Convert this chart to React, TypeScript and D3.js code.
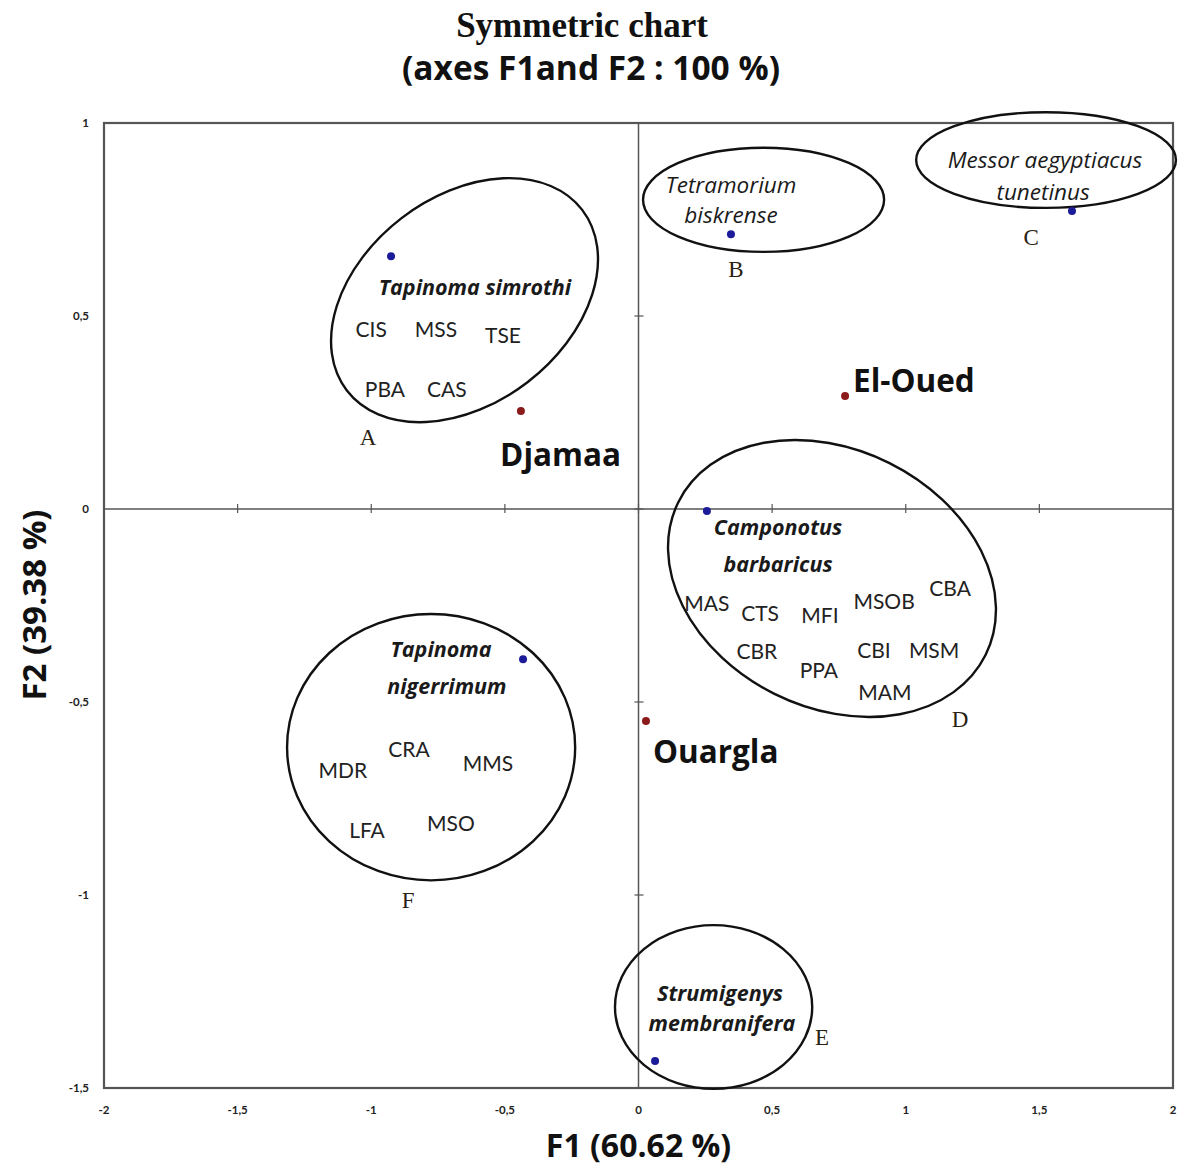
import React, { useEffect } from 'react';
import { scaleLinear, range } from 'd3';

const W = 1180;
const H = 1169;
const margin = { top: 123, right: 7, bottom: 81, left: 104 };

// F1 / F2 coordinates
const speciesNames = ['Tapinoma simrothi', 'Tetramorium biskrense', 'Messor aegyptiacus tunetinus', 'Camponotus barbaricus', 'Tapinoma nigerrimum', 'Strumigenys membranifera'];
const speciesF1 = [-0.926, 0.346, 1.622, 0.256, -0.432, 0.062];
const speciesF2 = [0.655, 0.712, 0.772, -0.005, -0.389, -1.43];

const siteNames = ['Djamaa', 'El-Oued', 'Ouargla'];
const siteF1 = [-0.44, 0.773, 0.028];
const siteF2 = [0.254, 0.293, -0.549];
const siteLabelF1 = [-0.518, 0.803, 0.054];
const siteLabelF2 = [0.14, 0.332, -0.63];

// species name labels (one entry per line)
const speciesLines = ['Tapinoma simrothi', 'Tetramorium', 'biskrense', 'Messor aegyptiacus', 'tunetinus', 'Camponotus', 'barbaricus', 'Tapinoma', 'nigerrimum', 'Strumigenys', 'membranifera'];
const speciesLineF1 = [-0.612, 0.346, 0.346, 1.521, 1.514, 0.522, 0.522, -0.739, -0.717, 0.305, 0.312];
const speciesLineF2 = [0.575, 0.839, 0.762, 0.904, 0.821, -0.049, -0.145, -0.363, -0.459, -1.254, -1.334];
const speciesLineBold = [true, false, false, false, false, true, true, true, true, true, true];

// station codes
const codes = ['CIS', 'MSS', 'TSE', 'PBA', 'CAS', 'MAS', 'CTS', 'MFI', 'MSOB', 'CBA', 'CBR', 'PPA', 'CBI', 'MSM', 'MAM', 'MDR', 'CRA', 'MMS', 'LFA', 'MSO'];
const codeF1 = [-1.0, -0.758, -0.507, -0.949, -0.717, 0.256, 0.455, 0.679, 0.919, 1.166, 0.443, 0.675, 0.881, 1.106, 0.922, -1.106, -0.859, -0.563, -1.016, -0.702];
const codeF2 = [0.464, 0.464, 0.448, 0.308, 0.308, -0.244, -0.272, -0.277, -0.241, -0.207, -0.37, -0.42, -0.368, -0.368, -0.477, -0.679, -0.624, -0.661, -0.834, -0.816];

// groups
const groupLetters = ['A', 'B', 'C', 'D', 'E', 'F'];
const letterF1 = [-1.012, 0.365, 1.469, 1.203, 0.687, -0.862];
const letterF2 = [0.187, 0.622, 0.705, -0.544, -1.368, -1.013];
const ellipseF1 = [-0.651, 0.468, 1.525, 0.724, 0.281, -0.776];
const ellipseF2 = [0.541, 0.801, 0.904, -0.18, -1.29, -0.617];
const ellipseRx = [0.555, 0.451, 0.486, 0.642, 0.369, 0.539];
const ellipseRy = [0.268, 0.135, 0.124, 0.334, 0.212, 0.345];
const ellipseRot = [-37.5, 0, 0, 26.5, 0, 0];

const xTicks = range(-2, 2.01, 0.5);
const yTicks = range(-1.5, 1.01, 0.5);

const fmt = (v: number) => String(Math.round(v * 10) / 10).replace('.', ',');

const App = () => {
  useEffect(() => {
    document.body.style.margin = '0';
  }, []);

  const x = scaleLinear().domain([-2, 2]).range([margin.left, W - margin.right]);
  const y = scaleLinear().domain([-1.5, 1]).range([H - margin.bottom, margin.top]);
  const kx = x(1) - x(0);
  const ky = y(0) - y(1);

  const sans = "'Open Sans', sans-serif";
  const lato = "Lato, 'Open Sans', sans-serif";
  const serif = "'Liberation Serif', 'DejaVu Serif', serif";

  return (
    <svg width={W} height={H} style={{ display: 'block', background: '#fff' }}>
      {/* title */}
      <text x={582} y={37} textAnchor="middle" fontFamily={serif} fontWeight="bold" fontSize={35} fill="#111">
        Symmetric chart
      </text>
      <text x={591} y={80} textAnchor="middle" fontFamily={sans} fontWeight="bold" fontSize={33.5} fill="#111">
        (axes F1and F2 : 100 %)
      </text>

      {/* zero lines */}
      <line x1={x(0)} x2={x(0)} y1={y(1)} y2={y(-1.5)} stroke="#555" strokeWidth={1.5} />
      <line x1={x(-2)} x2={x(2)} y1={y(0)} y2={y(0)} stroke="#555" strokeWidth={1.5} />
      {xTicks.map((t) => (
        <line key={'xt' + t} x1={x(t)} x2={x(t)} y1={y(0) - 5} y2={y(0) + 4} stroke="#555" strokeWidth={1.2} />
      ))}
      {yTicks.map((t) => (
        <line key={'yt' + t} x1={x(0) - 4} x2={x(0) + 5} y1={y(t)} y2={y(t)} stroke="#555" strokeWidth={1.2} />
      ))}

      {/* frame */}
      <rect x={x(-2)} y={y(1)} width={x(2) - x(-2)} height={y(-1.5) - y(1)} fill="none" stroke="#555" strokeWidth={2.2} />

      {/* tick labels */}
      {xTicks.map((t) => (
        <text key={'xl' + t} x={x(t)} y={y(-1.5) + 26} textAnchor="middle" fontFamily={lato} fontWeight="bold" fontSize={11.5} fill="#222">
          {fmt(t)}
        </text>
      ))}
      {yTicks.map((t) => (
        <text key={'yl' + t} x={x(-2) - 15} y={y(t) + 4} textAnchor="end" fontFamily={lato} fontWeight="bold" fontSize={11.5} fill="#222">
          {fmt(t)}
        </text>
      ))}

      {/* axis titles */}
      <text x={x(0)} y={H - 12} textAnchor="middle" fontFamily={sans} fontWeight="bold" fontSize={32} fill="#111">
        F1 (60.62 %)
      </text>
      <text
        transform={`translate(46, ${605}) rotate(-90)`}
        textAnchor="middle"
        fontFamily={sans}
        fontWeight="bold"
        fontSize={33}
        fill="#111"
      >
        F2 (39.38 %)
      </text>

      {/* group ellipses */}
      {groupLetters.map((g, i) => (
        <ellipse
          key={'el' + g}
          cx={0}
          cy={0}
          rx={ellipseRx[i] * kx}
          ry={ellipseRy[i] * ky}
          transform={`translate(${x(ellipseF1[i])}, ${y(ellipseF2[i])}) rotate(${ellipseRot[i]})`}
          fill="none"
          stroke="#111"
          strokeWidth={2.4}
        />
      ))}
      {groupLetters.map((g, i) => (
        <text key={'lt' + g} x={x(letterF1[i])} y={y(letterF2[i])} dy="0.35em" textAnchor="middle" fontFamily={serif} fontSize={23} fill="#2a2210">
          {g}
        </text>
      ))}

      {/* station codes */}
      {codes.map((c, i) => (
        <text key={'c' + c} x={x(codeF1[i])} y={y(codeF2[i])} dy="0.35em" textAnchor="middle" fontFamily={lato} fontSize={21} fill="#222">
          {c}
        </text>
      ))}

      {/* species labels */}
      {speciesLines.map((s, i) => (
        <text
          key={'sl' + i}
          x={x(speciesLineF1[i])}
          y={y(speciesLineF2[i])}
          dy="0.35em"
          textAnchor="middle"
          fontFamily={sans}
          fontStyle="italic"
          fontWeight={speciesLineBold[i] ? 'bold' : 'normal'}
          fontSize={speciesLineBold[i] ? 21.5 : 22.5}
          fill="#1a1a1a"
        >
          {s}
        </text>
      ))}

      {/* site labels */}
      {siteNames.map((s, i) => (
        <text key={'st' + s} x={x(siteLabelF1[i])} y={y(siteLabelF2[i])} dy="0.35em" fontFamily={sans} fontWeight="bold" fontSize={31.5} fill="#111">
          {s}
        </text>
      ))}

      {/* points */}
      {speciesNames.map((s, i) => (
        <circle key={'sp' + s} cx={x(speciesF1[i])} cy={y(speciesF2[i])} r={4} fill="#1c1c9a" />
      ))}
      {siteNames.map((s, i) => (
        <circle key={'si' + s} cx={x(siteF1[i])} cy={y(siteF2[i])} r={4} fill="#8b1a1a" />
      ))}
    </svg>
  );
};

export default App;
